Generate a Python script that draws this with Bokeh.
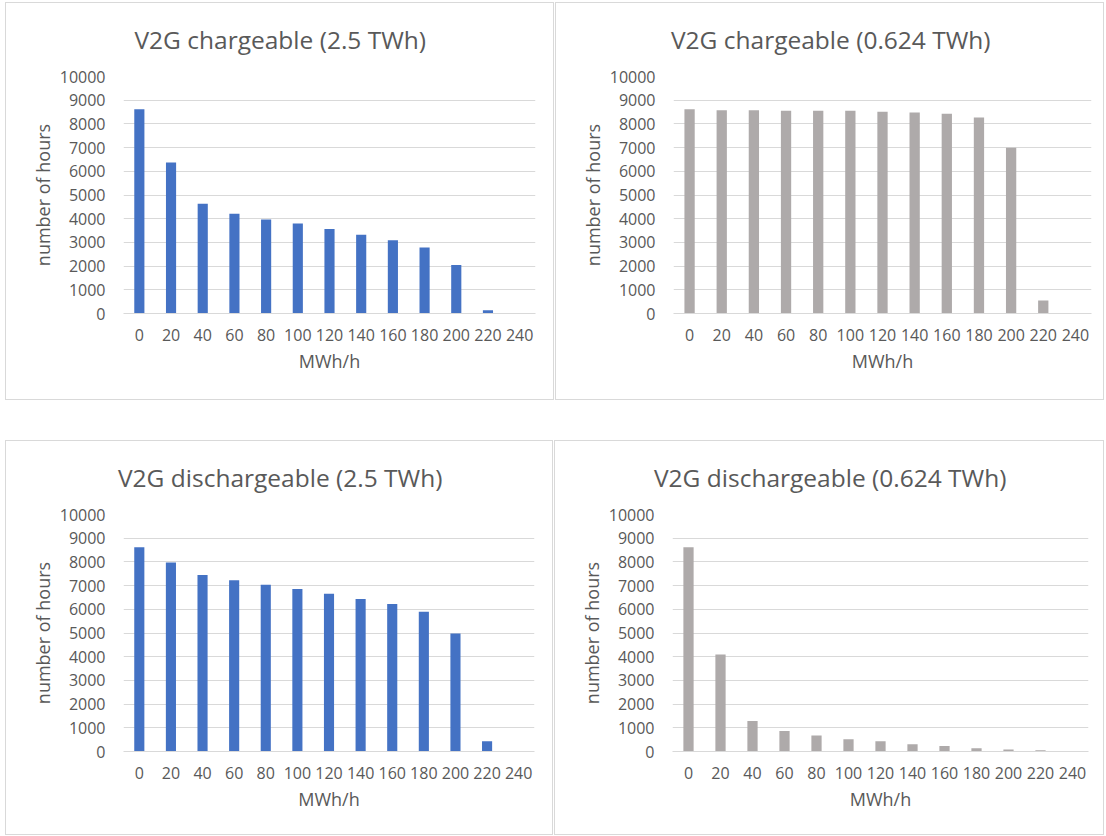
from bokeh.plotting import figure
from bokeh.layouts import column, row
from bokeh.models import Range1d, FactorRange, FixedTicker, ColumnDataSource
from bokeh.embed import file_html
from bokeh.resources import INLINE

# ---------------- data ----------------
mwh_bins = ["0", "20", "40", "60", "80", "100", "120", "140", "160", "180", "200", "220", "240"]
hour_ticks = [0, 1000, 2000, 3000, 4000, 5000, 6000, 7000, 8000, 9000, 10000]

chargeable_2_5 = [8620, 6370, 4630, 4210, 3970, 3800, 3570, 3320, 3090, 2780, 2050, 140, 0]
chargeable_0_624 = [8620, 8580, 8580, 8550, 8550, 8550, 8510, 8480, 8430, 8270, 6990, 550, 0]
dischargeable_2_5 = [8620, 7970, 7450, 7230, 7040, 6860, 6660, 6430, 6220, 5900, 4980, 430, 0]
dischargeable_0_624 = [8620, 4090, 1290, 860, 680, 520, 430, 305, 235, 140, 85, 55, 0]

title_tl = "V2G chargeable (2.5 TWh)"
title_tr = "V2G chargeable (0.624 TWh)"
title_bl = "V2G dischargeable (2.5 TWh)"
title_br = "V2G dischargeable (0.624 TWh)"
x_label = "MWh/h"
y_label = "number of hours"

# ---------------- style ----------------
FONT = "Open Sans"
TEXT = "#595959"
GRID = "#D9D9D9"
BLUE = "#4472C4"
GREY = "#AEAAAA"


def make_panel(title, values, color, panel_w, panel_h, frame_w, title_w):
    left, top, frame_h = 117, 73, 235
    src = ColumnDataSource(dict(bin=mwh_bins, hours=values))
    p = figure(
        x_range=FactorRange(factors=mwh_bins),
        y_range=Range1d(0, 10000),
        frame_width=frame_w, frame_height=frame_h,
        min_border_left=left, min_border_top=top,
        min_border_right=panel_w - 2 - left - frame_w,
        min_border_bottom=panel_h - 2 - top - frame_h,
        output_backend="svg", toolbar_location=None, tools="",
        title=title,
        styles={"border": "1px solid " + GRID},
    )
    p.vbar(x="bin", top="hours", width=0.32, source=src,
           fill_color=color, line_color=None)

    # title centred over the whole chart box
    p.title.text_font = FONT
    p.title.text_font_size = "24.5px"
    p.title.text_font_style = "normal"
    p.title.text_color = TEXT
    p.title.align = "left"
    p.title.vertical_align = "top"
    p.title.offset = panel_w / 2 - 1 - left - title_w / 2
    p.title.standoff = 37

    p.xaxis.axis_label = x_label
    p.yaxis.axis_label = y_label
    for ax in (p.xaxis[0], p.yaxis[0]):
        ax.major_label_text_font = FONT
        ax.major_label_text_font_size = "16px"
        ax.major_label_text_color = TEXT
        ax.axis_label_text_font = FONT
        ax.axis_label_text_font_size = "18px"
        ax.axis_label_text_font_style = "normal"
        ax.axis_label_text_color = TEXT
        ax.major_tick_line_color = None
        ax.minor_tick_line_color = None
        ax.major_tick_in = 0
        ax.major_tick_out = 0
        ax.axis_line_color = None
    p.xaxis.axis_line_color = GRID
    p.yaxis.ticker = FixedTicker(ticks=hour_ticks)
    p.yaxis.major_label_standoff = 18
    p.xaxis.major_label_standoff = 15
    p.xaxis.axis_label_standoff = 5
    p.yaxis.axis_label_standoff = 2

    p.xgrid.grid_line_color = None
    p.ygrid.grid_line_color = GRID
    p.ygrid.grid_line_width = 1
    p.outline_line_color = None
    p.background_fill_color = "white"
    p.border_fill_color = "white"
    return p


tl = make_panel(title_tl, chargeable_2_5, BLUE, 549, 398, 410, 291)
tr = make_panel(title_tr, chargeable_0_624, GREY, 549, 398, 416, 318)
bl = make_panel(title_bl, dischargeable_2_5, BLUE, 548, 395, 409, 323)
br = make_panel(title_br, dischargeable_0_624, GREY, 550, 395, 414, 351)

layout = column(row(tl, tr, spacing=1), row(bl, br, spacing=1),
                spacing=40, margin=(2, 0, 0, 5))

open("out.html", "w").write(file_html(layout, INLINE))
